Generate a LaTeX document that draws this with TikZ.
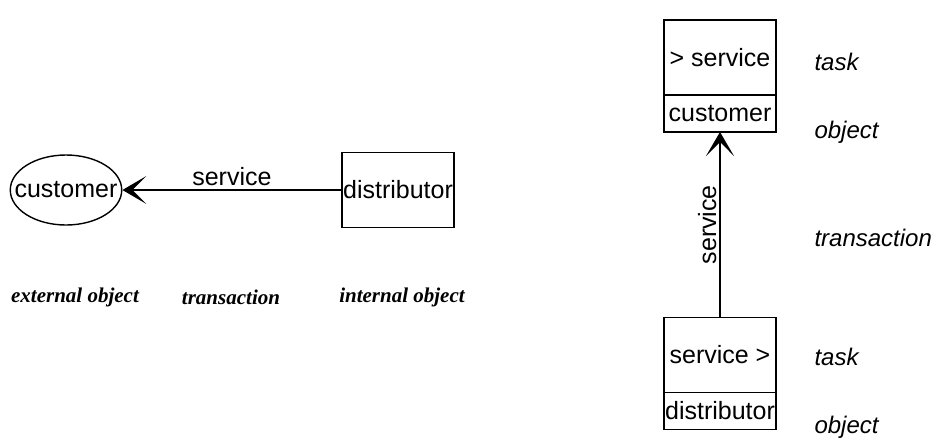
\documentclass[tikz,border=0pt]{standalone}
\usepackage{fontspec}
\setmainfont{Liberation Sans}
\newfontfamily\labelserif{Liberation Serif}
\usetikzlibrary{arrows.meta,positioning,shapes.geometric}

\begin{document}
\begin{tikzpicture}[x=1pt,y=-1pt,
    every node/.style={font=\fontsize{25}{29}\selectfont},
    ext node/.style={ellipse,draw,line width=1.4pt,minimum height=70pt,inner xsep=-12pt,inner ysep=0pt},
    int node/.style={rectangle,draw,line width=1.4pt,minimum width=110pt,minimum height=75pt,inner sep=1pt},
    task part/.style={rectangle,draw,line width=1.4pt,minimum width=112pt,minimum height=75pt,inner sep=1pt,outer sep=0pt},
    obj part/.style={task part,minimum height=37pt},
    kind/.style={font=\fontsize{21}{25}\selectfont\labelserif\bfseries\itshape},
    role/.style={font=\fontsize{24}{28}\selectfont\itshape,anchor=west},
    flow/.style={line width=1.4pt,-{Stealth[length=24pt,width=28pt,inset=14pt]}}]

  \useasboundingbox (0,0) rectangle (933,437);

  % left: object diagram
  \node[ext node] (customer) at (66,190) {customer};
  \node[int node] (distributor) at (398,190) {distributor};
  \draw[flow] (distributor) -- node[above,inner sep=4pt] {service} (customer);

  \node[kind] (extobj) at (75,297) {external object};
  \node[kind] (trans) at (231,297) {transaction};
  \node[kind] (intobj) at (402,297) {internal object};

  % right: task / object boxes
  \node[task part] (taskA) at (720,57.5) {> service};
  \node[obj part] (objA) [below=0pt of taskA] {customer};
  \node[task part] (taskB) at (720,355) {service >};
  \node[obj part] (objB) [below=0pt of taskB] {distributor};
  \draw[flow] (taskB.north) -- node[midway,sloped,above,inner sep=3pt] {service} (objA.south);

  \node[role] (roleA) at (811,62) {task};
  \node[role] (roleB) at (811,132) {object};
  \node[role] (roleC) at (811,238) {transaction};
  \node[role] (roleD) at (811,357) {task};
  \node[role] (roleE) at (811,427) {object};
\end{tikzpicture}
\end{document}
